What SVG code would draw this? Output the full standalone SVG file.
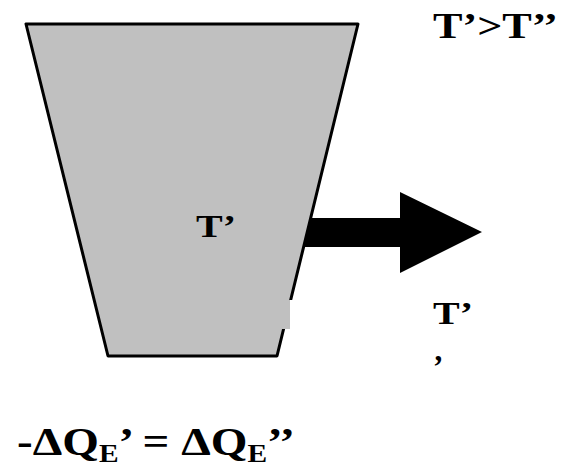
<svg xmlns="http://www.w3.org/2000/svg" width="567" height="470" viewBox="0 0 567 470">
<style>
.t{font-family:"Liberation Serif","Times New Roman",serif;font-weight:bold;fill:#000}
</style>
<rect width="567" height="470" fill="#fff"/>
<g id="connectors">
<path d="M295,218 H400 V192 L482,232 L400,273 V247 H295 Z" fill="#000"/>
</g>
<g id="vessel">
<polygon points="26,24 358,24 277,356 108,356" fill="#c0c0c0" stroke="#000" stroke-width="3" stroke-linejoin="round"/>
<rect x="290" y="300" width="14" height="29" fill="#fff"/>
<rect x="282" y="300" width="8" height="29" fill="#c0c0c0"/>
<text class="t" x="196" y="237" font-size="31" textLength="40" lengthAdjust="spacingAndGlyphs">T’</text>
</g>
<g id="labels">
<text class="t" x="433" y="38" font-size="36" textLength="125" lengthAdjust="spacingAndGlyphs">T’&gt;T’’</text>
<text class="t" x="433" y="324" font-size="31" textLength="40" lengthAdjust="spacingAndGlyphs">T’</text>
<text class="t" x="433" y="377" font-size="31">’</text>
<text class="t" font-size="40" textLength="278" lengthAdjust="spacingAndGlyphs"><tspan x="17" y="455">-ΔQ</tspan><tspan font-size="25" y="462">E</tspan><tspan y="455">’ = ΔQ</tspan><tspan font-size="25" y="462">E</tspan><tspan y="455">’’</tspan></text>
</g>
</svg>
